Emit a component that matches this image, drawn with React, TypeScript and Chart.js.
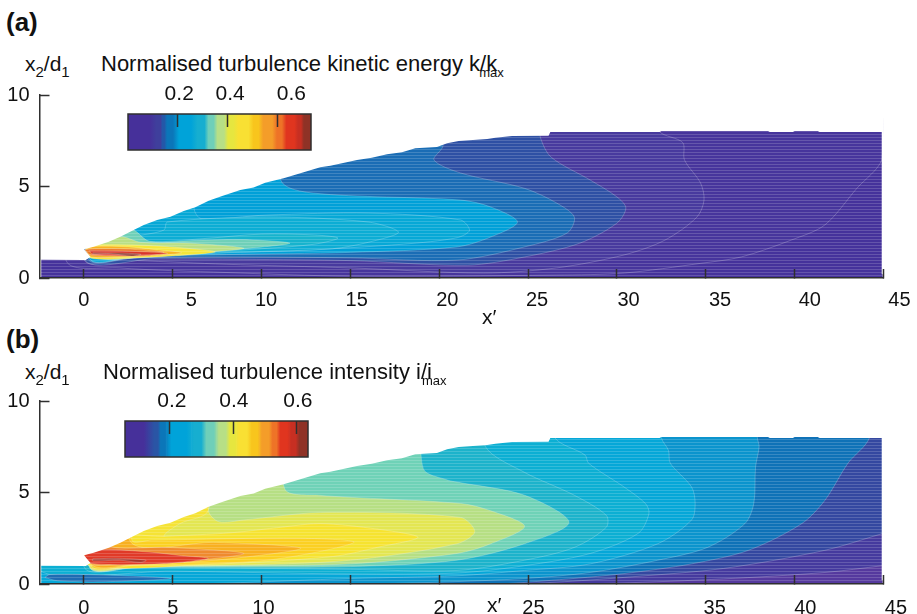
import React, { useEffect, useRef } from "react";
import { Chart, registerables } from "chart.js";
Chart.register(...registerables);

type Pt = [number, number];
const font = "'Liberation Sans', Arial, sans-serif";
const ink = "#2f2f2f";

const xTickValues = [0, 5, 10, 15, 20, 25, 30, 35, 40, 45];
const xTickLabels = ["0", "5", "10", "15", "20", "25", "30", "35", "40", "45"];
const xLabelPosA = [0, 6.05, 10.25, 15.35, 20.45, 25.5, 30.65, 35.8, 40.85, 45.9];
const xLabelPosB = [0, 5, 10.1, 15.2, 20.3, 25.3, 30.4, 35.5, 40.6, 45.7];

// edge of the flow field, drawn as white outside it
const fieldEdge: Pt[] = [[-3, 0], [-2.4, 0], [-2.4, 1], [0.1, 0.98], [0.37, 1.15], [0, 1.57], [0.55, 1.71], [1.4, 1.98], [2.05, 2.26], [2.8, 2.62], [3.37, 2.9], [4.12, 3.17], [4.87, 3.35], [5.62, 3.66], [6.27, 3.86], [7.02, 4.22], [7.78, 4.48], [8.8, 4.81], [9.55, 4.95], [10.2, 5.21], [11.24, 5.45], [12.18, 5.72], [13.3, 6.05], [13.87, 6.14], [15.37, 6.45], [16.2, 6.57], [17.06, 6.76], [17.9, 6.87], [18.65, 7.09], [19.87, 7.16], [20.44, 7.36], [21.09, 7.49], [22.7, 7.6], [23.16, 7.67], [24.1, 7.76], [26.15, 7.78], [26.25, 7.98], [32.4, 7.98], [32.5, 8.03], [38.5, 8.03], [38.6, 7.98], [39.9, 7.98], [40, 8.03], [41.3, 8.03], [41.4, 7.98], [44.9, 7.98], [44.9, 0.2], [46, 0.2], [46, 10.5], [-3, 10.5]];
const fullField: Pt[] = [[-2.5, 0], [44.95, 0], [44.95, 10], [-2.5, 10]];

// panel (a): turbulence kinetic energy contours
const k1: Pt[] = [[-1, 9], [-1, 0.95], [2, 0.55], [8, 0.3], [15, 0.1], [26.6, 0.16], [30.4, 0.27], [34.7, 0.8], [37, 1.15], [39.8, 2.07], [41.7, 2.9], [43.5, 4.9], [44.9, 6.45], [44.95, 9]];
const k2: Pt[] = [[32.4, 9], [32.4, 8], [33.7, 7.4], [33.8, 6.45], [34.7, 5.2], [34.9, 4.26], [34.5, 3.33], [32.7, 2.07], [30.4, 1.26], [26.6, 0.55], [22.5, 0.27], [15, 0.55], [8, 0.75], [3, 0.95], [0, 1.02], [0, 9]];
const k3: Pt[] = [[25.5, 9], [25.7, 7.65], [26.3, 6.6], [28.5, 5.35], [30, 4.43], [30.5, 3.83], [30, 3], [27.9, 1.9], [24.8, 1.15], [21.6, 0.7], [15, 0.95], [9, 1.02], [4, 1.05], [0, 1.05], [0, 9]];
const k4: Pt[] = [[20.2, 9], [20.2, 7.2], [19.7, 6.45], [21.2, 5.74], [24.8, 4.9], [26.6, 4.1], [27.6, 3.33], [27.2, 2.46], [24.8, 1.7], [21, 0.98], [15, 1.1], [8, 1.15], [3, 1.12], [0.2, 1.08], [0, 9]];
const k5: Pt[] = [[11, 9], [11.1, 5.3], [12.9, 4.64], [21.2, 4.26], [22.9, 3.88], [24.4, 3.06], [22.9, 2.24], [21, 1.7], [15, 1.4], [8, 1.28], [3, 1.18], [0.3, 1.08], [0, 9]];
const k6: Pt[] = [[6.2, 9], [6.2, 3.8], [6.6, 3.25], [10.3, 3.44], [16, 3.55], [21.2, 3.17], [21.7, 2.6], [21, 2.2], [18, 1.85], [12, 1.5], [8, 1.38], [3, 1.2], [0.3, 1.1], [0, 9]];
const k7: Pt[] = [[3, 2.3], [4.5, 2.62], [4.7, 3.06], [10.3, 3.33], [16, 3.06], [17.7, 2.5], [16, 1.95], [14, 1.6], [10, 1.45], [5, 1.3], [3, 1.2]];
const k8: Pt[] = [[3, 2.45], [3.7, 2], [6.7, 2.15], [10, 2.4], [13, 2.35], [14.3, 2.18], [13, 1.85], [10, 1.6], [5, 1.32], [2, 1.15], [1.5, 2.2]];
const k9: Pt[] = [[2.15, 2.6], [2.8, 2.62], [3.7, 2], [6.7, 2.07], [9, 2.1], [11.6, 1.9], [9, 1.6], [5, 1.35], [1, 1.12], [1, 2.6]];
const k10: Pt[] = [[1.4, 2.2], [2.2, 2.25], [3.2, 1.95], [6, 1.9], [9, 1.63], [7, 1.42], [4, 1.2], [0.8, 1.08], [0.6, 2.1]];
const k11: Pt[] = [[0.1, 1.6], [0.5, 1.8], [3, 1.8], [5.5, 1.65], [7.4, 1.42], [5, 1.2], [2.5, 1.08], [0.4, 1.08]];
const k12: Pt[] = [[0.05, 1.55], [0.5, 1.72], [2.5, 1.7], [4, 1.55], [5.5, 1.38], [4, 1.22], [2, 1.15], [0.4, 1.15]];
const k13: Pt[] = [[0.05, 1.55], [0.6, 1.6], [2.5, 1.58], [4.5, 1.4], [3.5, 1.24], [0.4, 1.25]];
const k14: Pt[] = [[0.3, 1.5], [2, 1.48], [4.7, 1.35], [3, 1.22], [0.5, 1.3]];
const k15: Pt[] = [[0.5, 1.38], [2, 1.36], [3.2, 1.3], [2.7, 1.2], [1.5, 1.33], [0.5, 1.33]];
const kContours: Pt[][] = [fullField, k1, k2, k3, k4, k5, k6, k7, k8, k9, k10, k11, k12, k13, k14, k15];
const kColors = ["#45329b", "#47359c", "#483a9e", "#2e50a4", "#1a6db5", "#00a0d8", "#06a8d6", "#0cadd4", "#16b3cd", "#6fd0b8", "#b9df85", "#f4e63a", "#f8b323", "#ec7a2a", "#d9362a", "#8e3a30"];

// panel (b): turbulence intensity contours
const i1: Pt[] = [[44.95, 1], [41.7, 0.63], [36, 0.28], [30, 0.05], [26, 0], [-2.5, 0], [-2.5, 9.8], [44.95, 9.8]];
const i2: Pt[] = [[44.95, 2.76], [41.7, 1.84], [36, 0.85], [30.4, 0.36], [26.6, 0.1], [24, 0], [-2.5, 0], [-2.5, 9.8], [44.95, 9.8]];
const i3: Pt[] = [[44.2, 9.8], [44.2, 7.97], [43, 6.6], [41.7, 4.57], [40.4, 3.3], [37.4, 1.84], [34.2, 1.1], [30.4, 0.57], [26.3, 0.2], [23, 0], [-2.5, 0], [-2.5, 9.8]];
const i4: Pt[] = [[37.9, 9.8], [37.9, 8], [38, 7.5], [37.8, 6.4], [37.7, 4.4], [37.2, 3.3], [35.1, 2], [32.3, 1.3], [28.5, 0.63], [24.8, 0.3], [20, 0.1], [15, 0], [-2.5, 0], [-2.5, 9.8]];
const i5: Pt[] = [[32.5, 9.8], [32.5, 8], [32.9, 7.3], [33, 6.6], [34.2, 5.3], [34.4, 4.4], [34.2, 3.5], [32.3, 2.2], [28.5, 1.1], [24.8, 0.74], [21, 0.45], [15, 0.3], [8, 0.05], [5, 0], [-2.5, 0], [-2.5, 9.8]];
const i6: Pt[] = [[26.5, 9.8], [26.5, 8], [28.2, 7.05], [28.4, 6.6], [30.4, 5.3], [31.6, 4.4], [31.8, 3.85], [31.2, 2.77], [28.5, 1.67], [24.8, 1], [21, 0.6], [15, 0.55], [5, 0.7], [-2.5, 0.75], [-2.5, 9.8]];
const i7: Pt[] = [[22.6, 9.8], [22.6, 7.5], [24.8, 6.1], [27.6, 4.85], [29.4, 3.75], [29.4, 3.1], [27.6, 2], [24.8, 1.3], [21, 0.74], [15, 0.8], [8, 0.87], [3, 0.9], [0, 0.95], [0, 9.8]];
const i8: Pt[] = [[19.1, 9.8], [19.1, 6.3], [20.5, 5.67], [21, 5.57], [24.8, 4.85], [27.3, 3.37], [24.8, 2.2], [21, 1.3], [15, 0.95], [8, 0.92], [3, 0.92], [0.3, 0.95], [0, 9.8]];
const i9: Pt[] = [[11.3, 9.8], [11.3, 5.2], [13.2, 4.85], [21.2, 4.4], [22.9, 4], [24.8, 3.15], [22.9, 2.2], [21, 1.67], [15, 1.1], [8, 0.98], [3, 0.95], [0.3, 0.95], [0, 9.8]];
const i10: Pt[] = [[7, 9.8], [7, 4.03], [7.6, 3.4], [9, 3.5], [13.3, 3.9], [21.2, 3.64], [22, 2.85], [21, 2.2], [15, 1.3], [8, 1.02], [3, 1], [0.3, 1], [0, 9.8]];
const i10b: Pt[] = [[0, 9.8], [7, 9.8], [7, 4.03], [5.4, 3.3], [4.5, 2.6], [5.5, 2.3], [0, 1.2]];
const i11: Pt[] = [[4.5, 2.6], [8.3, 2.8], [11.1, 3.1], [13.3, 3.3], [16.5, 3], [18.8, 2.55], [16.5, 2], [14, 1.5], [6.6, 1.05], [0.4, 1.02], [0.5, 2.6]];
const i12: Pt[] = [[2.7, 9.8], [2.7, 2.4], [3.8, 2.4], [12.2, 2.5], [15.2, 2.27], [10.3, 1.3], [2.8, 1.02], [0.4, 1.05], [0, 9.8]];
const i13: Pt[] = [[2.2, 5], [2.8, 2.15], [7.3, 2.27], [12.2, 1.95], [7.9, 1.35], [2.8, 1.05], [0.4, 1.1], [0, 5]];
const i14: Pt[] = [[1, 2.5], [1.7, 2], [4.7, 2], [9, 1.67], [5.4, 1.2], [2, 1.08], [0.4, 1.12], [0, 2]];
const i15: Pt[] = [[0, 1.55], [0.7, 1.88], [3.6, 1.75], [5.5, 1.55], [7, 1.4], [4.5, 1.12], [0.4, 1.12]];
const i16: Pt[] = [[0.5, 1.38], [2, 1.4], [3.5, 1.3], [3.2, 1.18], [2, 1.3], [0.5, 1.26]];
const iStreak: Pt[] = [[-2.2, 0.36], [-1.9, 0.52], [1.5, 0.48], [4.9, 0.3], [1, 0.12], [-1.5, 0.18]];
const iContours: Pt[][] = [fullField, i1, i2, i3, i4, i5, i6, i7, i8, i9, i10, i10b, i11, i12, i13, i14, i15, i16, iStreak];
const iColors = ["#55399e", "#453a9e", "#3448a0", "#0f72b7", "#0b94cd", "#05a7d8", "#0cafd3", "#1db3cb", "#6fd2b7", "#b6df84", "#e3e652", "#f5e335", "#f6e330", "#fbd022", "#f8b020", "#ef8a2e", "#e03a28", "#a8352c", "#1f6cb3"];

// colour bars
const barColorsA = ["#46309a", "#3f3f9c", "#2457a8", "#0b76b9", "#00a3d9", "#16aed0", "#6fcfb9", "#b7df86", "#e6e63f", "#f9e033", "#f8c51d", "#f49d29", "#ee7327", "#e0351f", "#c72f22", "#8f3226"];
const barWidthsA = [0.109, 0.027, 0.013, 0.04, 0.081, 0.047, 0.034, 0.044, 0.036, 0.067, 0.034, 0.06, 0.034, 0.054, 0.02, 0.036];
const barColorsB = ["#46309a", "#2a55a5", "#0b76b9", "#00a3d9", "#16aed0", "#6fcfb9", "#b7df86", "#e6e63f", "#f9e033", "#f8c51d", "#f49d29", "#ee7327", "#e0351f", "#c72f22", "#8f3226"];
const barWidthsB = [0.147, 0.019, 0.023, 0.079, 0.039, 0.04, 0.037, 0.026, 0.042, 0.031, 0.037, 0.021, 0.037, 0.024, 0.034];
const barTicks = [0.2, 0.4, 0.6];
const barTickLabels = ["0.2", "0.4", "0.6"];
const barLabelPosA = [0.206, 0.411, 0.657];
const barLabelPosB = [0.206, 0.402, 0.604];

function stripes(color: string): CanvasPattern {
  const c = document.createElement("canvas");
  c.width = 4; c.height = 3;
  const g = c.getContext("2d")!;
  g.fillStyle = color; g.fillRect(0, 0, 4, 3);
  g.fillStyle = "rgba(255,255,255,0.17)"; g.fillRect(0, 0, 4, 1);
  return g.createPattern(c, "repeat")!;
}

function labelAxis(min: number, max: number, positions: number[], labels: string[], position: string, padding: number, size: number, weight: number, fontSize: number) {
  return {
    type: "linear", position, min, max, weight,
    grid: { display: false, drawTicks: false }, border: { display: false },
    afterBuildTicks: (s: any) => { s.ticks = positions.map((value) => ({ value })); },
    afterFit: (s: any) => { s.height = size; s.paddingLeft = 0; s.paddingRight = 0; },
    ticks: { autoSkip: false, maxRotation: 0, padding, color: "#111", font: { family: font, size: fontSize }, callback: (_: any, i: number) => labels[i] },
  };
}

function makeField(canvas: HTMLCanvasElement, contours: Pt[][], colors: string[], labelPos: number[], padTop: number, bottom: number, labelPad: number) {
  const datasets: any[] = contours.map((poly, i) => ({
    data: [...poly, poly[0]].map(([x, y]) => ({ x, y })),
    showLine: true, fill: "shape", tension: i === 0 ? 0 : 0.3, pointRadius: 0,
    backgroundColor: stripes(colors[i]), borderColor: i === 0 ? "transparent" : "rgba(255,255,255,0.22)", borderWidth: i === 0 ? 0 : 1,
    order: 100 - i,
  }));
  datasets.push({
    data: [...fieldEdge, fieldEdge[0]].map(([x, y]) => ({ x, y })),
    showLine: true, fill: "shape", tension: 0, pointRadius: 0, backgroundColor: "#ffffff", borderWidth: 0, order: 0,
  });
  return new Chart(canvas, {
    type: "scatter",
    data: { datasets },
    options: {
      animation: false, responsive: false, devicePixelRatio: 1,
      layout: { autoPadding: false, padding: { top: padTop, right: 33.5, left: 0, bottom: 0 } },
      plugins: { legend: { display: false }, tooltip: { enabled: false } },
      scales: {
        x: {
          type: "linear", min: -2.5, max: 45, position: "bottom", weight: 0,
          afterBuildTicks: (s: any) => { s.ticks = xTickValues.map((value) => ({ value })); },
          afterFit: (s: any) => { s.height = 1; s.paddingLeft = 0; s.paddingRight = 0; },
          grid: { drawOnChartArea: false, tickLength: -9, tickWidth: 1.5, tickColor: ink, z: 1 },
          border: { color: ink, width: 1.5, z: 1 },
          ticks: { display: false },
        },
        xl: labelAxis(-2.5, 45, labelPos, xTickLabels, "bottom", labelPad, bottom, 1, 20),
        y: {
          type: "linear", min: 0, max: 10, position: "left",
          afterBuildTicks: (s: any) => { s.ticks = [0, 5, 10].map((value) => ({ value })); },
          afterFit: (s: any) => { s.width = 39.5; s.paddingTop = 0; s.paddingBottom = 0; },
          grid: { drawOnChartArea: false, tickLength: -10, tickWidth: 1.5, tickColor: ink, z: 1 },
          border: { color: ink, width: 1.5, z: 1 },
          ticks: { padding: 20, color: "#111", font: { family: font, size: 20 }, callback: (v: any) => String(v) },
        },
      },
    } as any,
  });
}

const frame = {
  id: "frame",
  afterDatasetsDraw(chart: any) {
    const { ctx, chartArea: a } = chart;
    ctx.save(); ctx.strokeStyle = ink; ctx.lineWidth = 1.5;
    ctx.strokeRect(a.left, a.top, a.right - a.left, a.bottom - a.top);
    ctx.restore();
  },
};

function makeBar(canvas: HTMLCanvasElement, colors: string[], widths: number[], min: number, labelPos: number[]) {
  const max = widths.reduce((a, b) => a + b, 0);
  const blend = (c: any) => {
    const a = c.chart.chartArea;
    if (!a) return colors[0];
    const g = c.chart.ctx.createLinearGradient(a.left, 0, a.right, 0);
    const frac = (v: number) => Math.min(1, Math.max(0, (v - min) / (max - min)));
    let at = 0;
    widths.forEach((w, i) => {
      g.addColorStop(frac(at + w * 0.2), colors[i]);
      g.addColorStop(frac(at + w * 0.8), colors[i]);
      at += w;
    });
    return g;
  };
  return new Chart(canvas, {
    type: "bar",
    data: {
      labels: ["scale"],
      datasets: widths.map((w) => ({ data: [w], backgroundColor: blend, barPercentage: 1, categoryPercentage: 1, borderWidth: 0 })),
    },
    options: {
      indexAxis: "y", animation: false, responsive: false, devicePixelRatio: 1,
      layout: { autoPadding: false, padding: { left: 10, right: 17, top: 0, bottom: 5 } },
      plugins: { legend: { display: false }, tooltip: { enabled: false } },
      scales: {
        x: {
          type: "linear", position: "top", stacked: true, min, max, weight: 0,
          afterBuildTicks: (s: any) => { s.ticks = barTicks.map((value) => ({ value })); },
          afterFit: (s: any) => { s.height = 1; s.paddingLeft = 0; s.paddingRight = 0; },
          grid: { drawOnChartArea: false, tickLength: -13, tickWidth: 1.5, tickColor: ink, z: 1 },
          border: { display: false },
          ticks: { display: false },
        },
        xl: labelAxis(min, max, labelPos, barTickLabels, "top", 6, 33, 1, 21),
        y: { stacked: true, display: false },
      },
    } as any,
    plugins: [frame],
  });
}

const abs = (left: number, top: number, extra: React.CSSProperties = {}): React.CSSProperties => ({
  position: "absolute", left, top, fontFamily: font, fontSize: 21, lineHeight: "22px", color: "#111", whiteSpace: "nowrap", ...extra,
});
const subStyle: React.CSSProperties = { fontSize: 15, position: "relative", top: 6 };

function Heading({ top, titleLeft, text, maxShift }: { top: number; titleLeft: number; text: string; maxShift: number }) {
  return (
    <>
      <div style={abs(25, top)}>x<span style={subStyle}>2</span>/d<span style={subStyle}>1</span></div>
      <div style={abs(titleLeft, top, { fontSize: 22 })}>{text}<span style={{ fontSize: 13, position: "relative", top: 6, marginLeft: maxShift }}>max</span></div>
    </>
  );
}

export default function App() {
  const a = useRef<HTMLCanvasElement>(null);
  const b = useRef<HTMLCanvasElement>(null);
  const ca = useRef<HTMLCanvasElement>(null);
  const cb = useRef<HTMLCanvasElement>(null);
  useEffect(() => {
    const charts = [
      makeField(a.current!, kContours, kColors, xLabelPosA, 15, 41, 9),
      makeField(b.current!, iContours, iColors, xLabelPosB, 16, 29, 11),
      makeBar(ca.current!, barColorsA, barWidthsA, 0, barLabelPosA),
      makeBar(cb.current!, barColorsB, barWidthsB, 0.058, barLabelPosB),
    ];
    return () => charts.forEach((c) => c.destroy());
  }, []);
  return (
    <div style={{ position: "absolute", left: 0, top: 0, width: 917, height: 614, overflow: "hidden", background: "#fff" }}>
      <canvas ref={a} width={917} height={240} style={{ position: "absolute", left: 0, top: 80 }} />
      <canvas ref={b} width={917} height={229} style={{ position: "absolute", left: 0, top: 385 }} />
      <canvas ref={ca} width={210} height={75} style={{ position: "absolute", left: 118, top: 80 }} />
      <canvas ref={cb} width={210} height={75} style={{ position: "absolute", left: 115, top: 387 }} />
      <div style={abs(6, 9, { fontWeight: 700, fontSize: 26, lineHeight: "26px" })}>(a)</div>
      <div style={abs(6, 326, { fontWeight: 700, fontSize: 26, lineHeight: "26px" })}>(b)</div>
      <Heading top={53} titleLeft={101} text="Normalised turbulence kinetic energy k/k" maxShift={-18} />
      <Heading top={361} titleLeft={103} text="Normalised turbulence intensity i/i" maxShift={-10} />
      <div style={abs(482, 306)}>x′</div>
      <div style={abs(487, 594)}>x′</div>
    </div>
  );
}
